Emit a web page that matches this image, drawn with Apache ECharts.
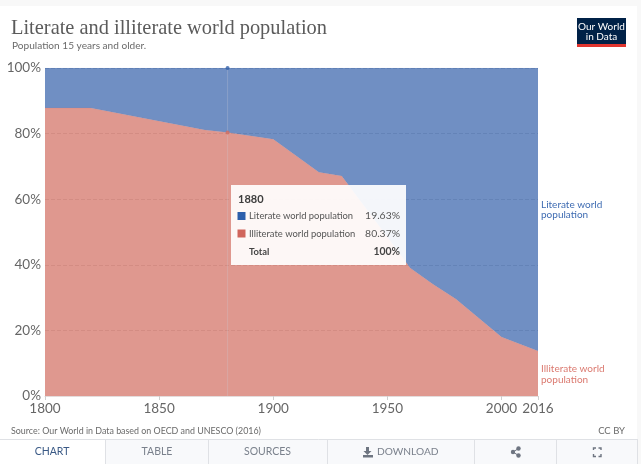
<!DOCTYPE html>
<html>
<head>
<meta charset="utf-8">
<style>html,body{margin:0;padding:0;background:#fff}#c{width:641px;height:464px}</style>
<script src="https://cdn.jsdelivr.net/npm/echarts@6/dist/echarts.min.js"></script>
</head>
<body>
<div id="c"></div>
<script>
const years = [1800, 1820, 1870, 1880, 1900, 1920, 1930, 1950, 1960, 1970, 1980, 1990, 2000, 2016];
const illiterate = [87.8, 87.8, 81.1, 80.37, 78.3, 68.2, 67.1, 48.5, 39, 34.1, 29.6, 23.8, 18, 13.7];
const literate = [12.2, 12.2, 18.9, 19.63, 21.7, 31.8, 32.9, 51.5, 61, 65.9, 70.4, 76.2, 82, 86.3];
const xTickLabels = [1800, 1850, 1900, 1950, 2000, 2016];
const tooltipYear = 1880;
const tooltipLiterate = '19.63%';
const tooltipIlliterate = '80.37%';
const tooltipTotal = '100%';

const LATO = 'Lato, "Open Sans", sans-serif';
const BLUE = '#3360A9', RED = '#D16C60';
const chart = echarts.init(document.getElementById('c'), null, {renderer: 'canvas'});

function txt(x, y, text, size, fill, extra) {
  return {type: 'text', z: 100, x, y, silent: true,
    style: Object.assign({text, fontSize: size, fill, fontFamily: LATO, verticalAlign: 'middle', align: 'left'}, extra || {})};
}
function rect(x, y, w, h, fill, extra) {
  return Object.assign({type: 'rect', z: 90, silent: true, shape: {x, y, width: w, height: h}, style: {fill}}, extra || {});
}
function vline(x, y1, y2) {
  return {type: 'line', z: 95, silent: true, shape: {x1: x + .5, y1, x2: x + .5, y2}, style: {stroke: '#dfe1e5', lineWidth: 1}};
}
function corner(x1, y1, x2, y2, x3, y3) {
  return {type: 'polyline', z: 100, silent: true, shape: {points: [[x1, y1], [x2, y2], [x3, y3]]}, style: {stroke: '#6e7581', lineWidth: 1.4, fill: null}};
}

const graphics = [
  rect(0, 0, 641, 6, '#f8f8f8'),
  rect(637, 0, 4, 464, '#f8f8f8'),
  txt(11, 29, 'Literate and illiterate world population', 20.4, '#5b5b5b', {fontFamily: '"Liberation Serif", serif'}),
  txt(12, 46, 'Population 15 years and older.', 10.1, '#6a6a6a'),
  rect(577, 18, 49, 26, '#002147'),
  rect(577, 44, 49, 3, '#E0352F'),
  txt(601.5, 26.5, 'Our World', 10, '#ffffff', {align: 'center'}),
  txt(601.5, 37, 'in Data', 10, '#ffffff', {align: 'center'}),
  txt(541, 205, 'Literate world', 10, '#3F6CB2'),
  txt(541, 215, 'population', 10, '#3F6CB2'),
  txt(541, 369, 'Illiterate world', 10, '#DB7A70'),
  txt(541, 380, 'population', 10, '#DB7A70'),

  rect(231, 185, 175, 80, 'rgba(255,255,255,0.92)'),
  txt(238, 199, String(tooltipYear), 11, '#3d3d3d', {fontWeight: 'bold'}),
  rect(237.5, 212, 8, 8, '#2C5EAB', {z: 100}),
  txt(249, 216, 'Literate world population', 9.4, '#555'),
  txt(400, 216, tooltipLiterate, 10.4, '#555', {align: 'right'}),
  rect(237.5, 229.5, 8, 8, '#D0655C', {z: 100}),
  txt(249, 234, 'Illiterate world population', 9.4, '#555'),
  txt(400, 234, tooltipIlliterate, 10.4, '#555', {align: 'right'}),
  txt(249, 252, 'Total', 9.4, '#444', {fontWeight: 'bold'}),
  txt(400, 252, tooltipTotal, 10.4, '#444', {align: 'right', fontWeight: 'bold'}),

  txt(11, 431, 'Source: Our World in Data based on OECD and UNESCO (2016)', 8.9, '#6a6a6a'),
  txt(625, 431, 'CC BY', 9.5, '#6a6a6a', {align: 'right'}),

  rect(105, 439, 532, 25, '#f8f9fb'),
  {type: 'line', z: 95, silent: true, shape: {x1: 0, y1: 439.5, x2: 637, y2: 439.5}, style: {stroke: '#dfe1e5', lineWidth: 1}},
  rect(0, 440, 105, 24, '#ffffff'),
  vline(105, 439, 464), vline(208, 439, 464), vline(327, 439, 464), vline(474, 439, 464), vline(556, 439, 464), vline(637, 439, 464),
  txt(52, 452, 'CHART', 10.5, '#3b5a86', {align: 'center'}),
  txt(157, 452, 'TABLE', 10.5, '#7a818c', {align: 'center'}),
  txt(267.5, 452, 'SOURCES', 10.5, '#7a818c', {align: 'center'}),
  txt(377, 452, 'DOWNLOAD', 10.2, '#7a818c'),
  {type: 'polygon', z: 100, silent: true, shape: {points: [[366, 447], [369, 447], [369, 451], [371.5, 451], [367.5, 455], [363.5, 451], [366, 451]]}, style: {fill: '#6e7581'}},
  rect(363, 455, 10, 2.5, '#6e7581', {z: 100}),
  {type: 'circle', z: 100, silent: true, shape: {cx: 513, cy: 452, r: 2.2}, style: {fill: '#6e7581'}},
  {type: 'circle', z: 100, silent: true, shape: {cx: 518.5, cy: 448.5, r: 2.2}, style: {fill: '#6e7581'}},
  {type: 'circle', z: 100, silent: true, shape: {cx: 518.5, cy: 455.5, r: 2.2}, style: {fill: '#6e7581'}},
  {type: 'polyline', z: 100, silent: true, shape: {points: [[518.5, 448.5], [513, 452], [518.5, 455.5]]}, style: {stroke: '#6e7581', lineWidth: 1, fill: null}},
  corner(593.5, 450, 593.5, 448, 596, 448), corner(598.5, 448, 601, 448, 601, 450),
  corner(593.5, 454, 593.5, 456.5, 596, 456.5), corner(598.5, 456.5, 601, 456.5, 601, 454)
];

const hoverIndex = years.indexOf(tooltipYear);
chart.setOption({
  animation: false,
  backgroundColor: '#ffffff',
  grid: {left: 45, right: 103, top: 68, bottom: 68, containLabel: false},
  xAxis: {
    type: 'value', min: 1800, max: 2016, interval: 50,
    axisLine: {show: true, lineStyle: {color: '#e3dcdc', width: 1}},
    axisTick: {show: true, length: 4, lineStyle: {color: '#cfcfcf'}, customValues: xTickLabels},
    splitLine: {show: false},
    axisLabel: {color: '#666', fontSize: 13.5, fontFamily: LATO, margin: 6, customValues: xTickLabels,
      showMinLabel: true, showMaxLabel: true, hideOverlap: false, formatter: v => String(v)}
  },
  yAxis: {
    type: 'value', min: 0, max: 100, interval: 20,
    axisLine: {show: false}, axisTick: {show: false},
    splitLine: {show: true, lineStyle: {color: '#d8d8d8', type: 'dashed', width: 1}},
    axisLabel: {color: '#666', fontSize: 13.5, fontFamily: LATO, margin: 4, formatter: '{value}%'}
  },
  series: [
    {name: 'Illiterate world population', type: 'line', stack: 'total', symbol: 'none',
     encode: {x: 1, y: 0},
     data: years.map((y, i) => [illiterate[i], y]),
     lineStyle: {width: 0.5, color: RED, opacity: 0.3}, itemStyle: {color: RED},
     areaStyle: {color: RED, opacity: 0.7}},
    {name: 'Literate world population', type: 'line', stack: 'total', symbol: 'none',
     encode: {x: 1, y: 0},
     data: years.map((y, i) => [literate[i], y]),
     lineStyle: {width: 0.5, color: BLUE, opacity: 0.3}, itemStyle: {color: BLUE},
     areaStyle: {color: BLUE, opacity: 0.7}},
    {name: 'cursor', type: 'line', symbol: 'none', silent: true,
     data: [[tooltipYear, 0], [tooltipYear, 100]],
     lineStyle: {color: 'rgba(205,205,215,0.28)', width: 1}},
    {type: 'scatter', symbolSize: 4, silent: true, z: 5,
     data: [{value: [tooltipYear, illiterate[hoverIndex] + literate[hoverIndex]], itemStyle: {color: BLUE}},
            {value: [tooltipYear, illiterate[hoverIndex]], itemStyle: {color: RED}}]}
  ],
  graphic: {elements: graphics}
});
</script>
</body>
</html>
